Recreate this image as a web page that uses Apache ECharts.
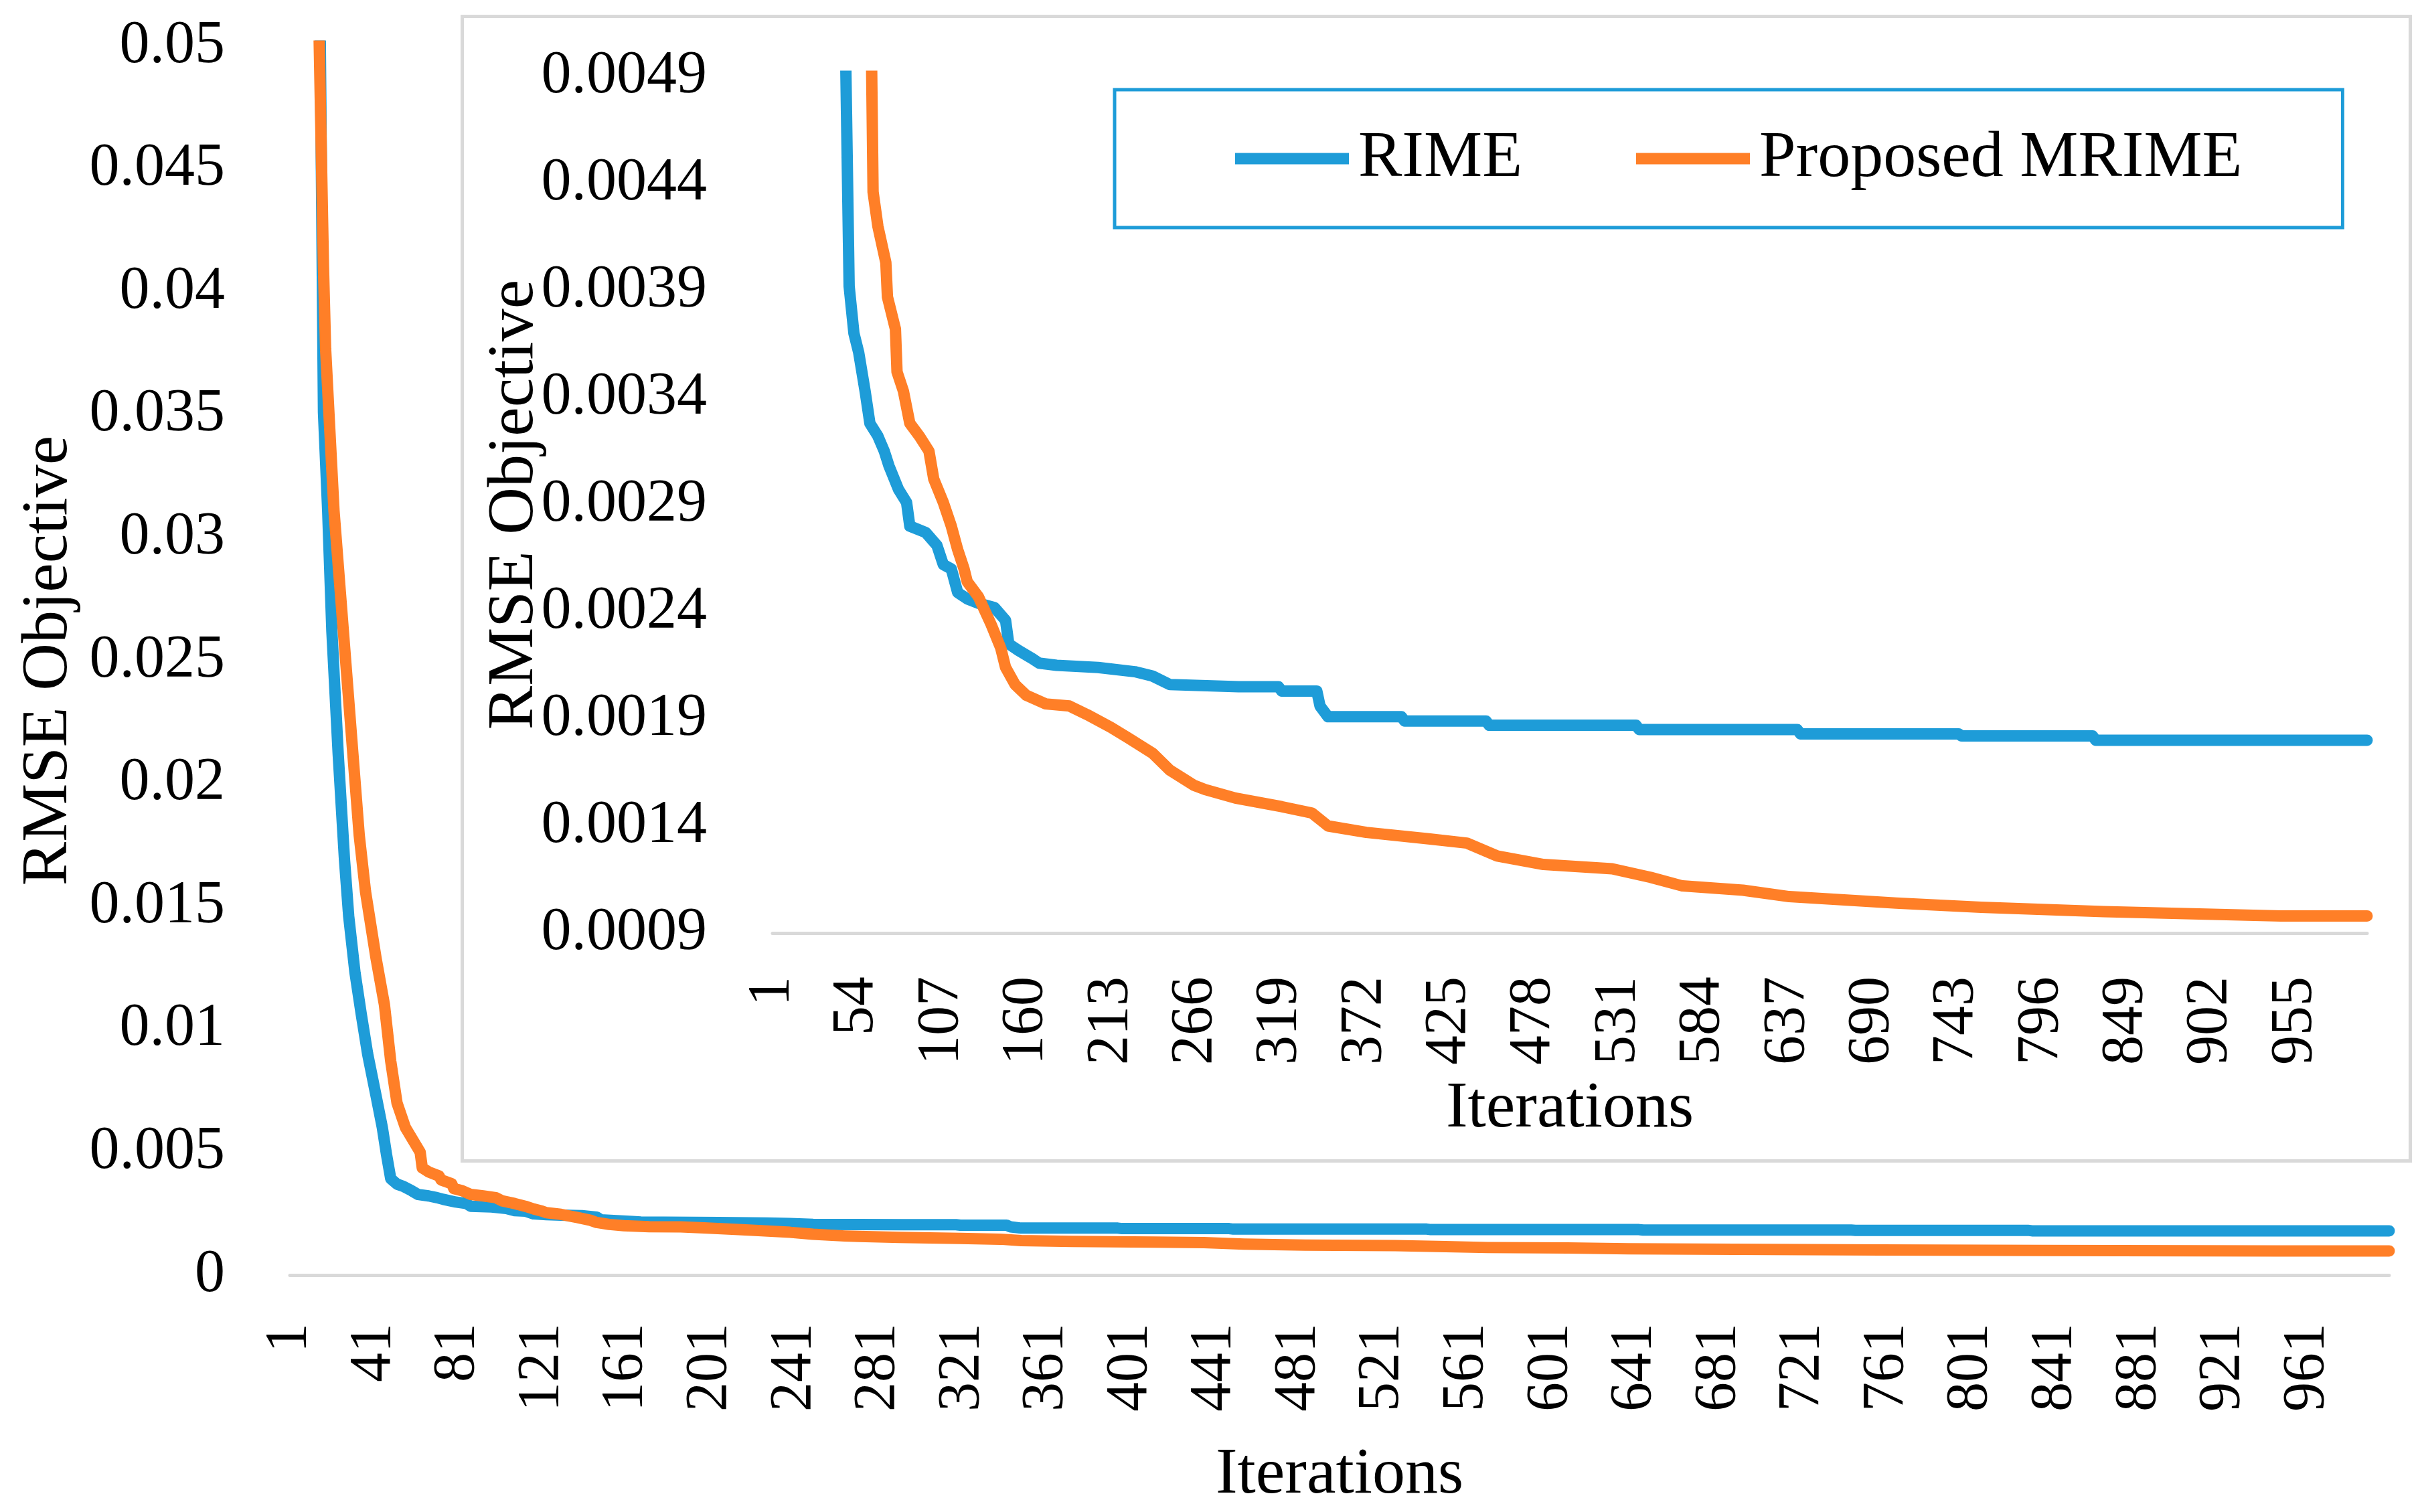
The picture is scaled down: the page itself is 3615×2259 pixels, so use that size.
<!DOCTYPE html>
<html>
<head>
<meta charset="utf-8">
<script src="https://cdn.jsdelivr.net/npm/echarts@6/dist/echarts.min.js"></script>
<style>
html, body { margin: 0; padding: 0; background: #ffffff; }
#chart { width: 3615px; height: 2259px; }
</style>
</head>
<body>
<div id="chart"></div>
<script>
// ---------- data ----------
const iterations = Array.from({ length: 1000 }, (_, k) => String(k + 1));
const seriesNames = ['RIME', 'Proposed MRIME'];

// [iteration, RMSE]
const rimePoints = [
  [1, 0.12], [15, 0.055], [16, 0.045], [17, 0.0351], [19, 0.0311], [21, 0.0262], [24, 0.0212],
  [27, 0.0169], [29, 0.0146], [32, 0.0123], [35, 0.0106], [38, 0.0090], [42, 0.0073],
  [45, 0.0060], [47, 0.0049], [49, 0.00392], [52, 0.00370], [55, 0.00361], [59, 0.00343],
  [62, 0.00328], [67, 0.00322], [71, 0.00315], [74, 0.00308], [80, 0.00297], [85, 0.00291],
  [87, 0.00280], [97, 0.00277], [104, 0.00271], [108, 0.00262], [113, 0.00260], [117, 0.00249],
  [123, 0.00246], [130, 0.00244], [140, 0.00242], [147, 0.00236], [149, 0.00225], [155, 0.00222],
  [164, 0.00218], [168, 0.00216], [179, 0.00215], [205, 0.00214], [228, 0.00212], [239, 0.00210],
  [250, 0.00206], [293, 0.00205], [318, 0.00205], [320, 0.00203], [342, 0.00203], [344, 0.00196],
  [349, 0.00191], [395, 0.00191], [397, 0.00189], [448, 0.00189], [450, 0.00187], [542, 0.00187],
  [544, 0.00185], [643, 0.00185], [645, 0.00183], [744, 0.00183], [746, 0.00182], [828, 0.00182],
  [830, 0.00180], [1000, 0.00180]
];
const mrimePoints = [
  [1, 0.12], [15, 0.0500], [17, 0.0410], [18, 0.0377], [20, 0.0344], [22, 0.0311], [25, 0.0278],
  [28, 0.0245], [31, 0.0212], [34, 0.0179], [37, 0.0156], [42, 0.0129], [46, 0.0110],
  [49, 0.0087], [52, 0.0070], [56, 0.0060], [63, 0.0050], [64, 0.00436], [67, 0.00420],
  [72, 0.00403], [73, 0.00387], [78, 0.00372], [79, 0.00352], [83, 0.00343], [87, 0.00328],
  [93, 0.00322], [99, 0.00315], [102, 0.00302], [108, 0.00291], [113, 0.00280], [117, 0.00269],
  [121, 0.00260], [123, 0.00254], [130, 0.00247], [138, 0.00234], [144, 0.00223], [147, 0.00214],
  [153, 0.00206], [160, 0.00201], [172, 0.00197], [187, 0.00196], [198, 0.00192], [213, 0.00186],
  [224, 0.00181], [239, 0.00174], [250, 0.00166], [265, 0.00159], [272, 0.00157], [291, 0.00153],
  [320, 0.00149], [339, 0.00146], [349, 0.00140], [373, 0.00137], [412, 0.00134], [436, 0.00132],
  [455, 0.00126], [484, 0.00122], [527, 0.00120], [551, 0.00116], [571, 0.00112], [609, 0.00110],
  [638, 0.00107], [705, 0.00104], [758, 0.00102], [835, 0.00100], [946, 0.00098], [1000, 0.00098]
];

const mainYTicks = [0, 0.005, 0.01, 0.015, 0.02, 0.025, 0.03, 0.035, 0.04, 0.045, 0.05];
const mainYLabels = ['0', '0.005', '0.01', '0.015', '0.02', '0.025', '0.03', '0.035', '0.04', '0.045', '0.05'];
const insetYTicks = [0.0009, 0.0014, 0.0019, 0.0024, 0.0029, 0.0034, 0.0039, 0.0044, 0.0049];
const insetYLabels = ['0.0009', '0.0014', '0.0019', '0.0024', '0.0029', '0.0034', '0.0039', '0.0044', '0.0049'];
const axisTitleX = 'Iterations';
const axisTitleY = 'RMSE Objective';

// ---------- styling ----------
const FONT = 'Liberation Serif';
const BLUE = '#1e9cd8';
const ORANGE = '#ff7f27';
const AXIS_GRAY = '#d9d9d9';
const colors = [BLUE, ORANGE];

function labelFor(ticks, labels) {
  return function (v) {
    for (let k = 0; k < ticks.length; k++) {
      if (Math.abs(ticks[k] - v) < 1e-9) return labels[k];
    }
    return '';
  };
}

function toSeriesData(points) {
  return points.map(p => [p[0] - 1, p[1]]);
}

const chart = echarts.init(document.getElementById('chart'), null, { renderer: 'canvas' });

const xAxisCommon = {
  type: 'category',
  data: iterations,
  boundaryGap: false,
  axisLine: { show: true, lineStyle: { color: AXIS_GRAY, width: 5 } },
  axisTick: { show: false },
  splitLine: { show: false },
  nameLocation: 'middle',
  nameTextStyle: { fontFamily: FONT, fontSize: 98, color: '#000' }
};

const yAxisCommon = {
  type: 'value',
  axisLine: { show: false },
  axisTick: { show: false },
  splitLine: { show: false },
  nameLocation: 'middle',
  nameTextStyle: { fontFamily: FONT, fontSize: 98, color: '#000' }
};

const option = {
  backgroundColor: '#ffffff',
  animation: false,
  color: colors,
  grid: [
    { left: 433, top: 69, width: 3136, height: 1836, containLabel: false },
    { left: 1154, top: 114, width: 2382, height: 1280, containLabel: false }
  ],
  graphic: [
    {
      type: 'rect',
      left: 688,
      top: 22,
      silent: true,
      z: -10,
      shape: { width: 2910, height: 1710 },
      style: { fill: 'none', stroke: AXIS_GRAY, lineWidth: 5 }
    }
  ],
  legend: {
    show: true,
    data: seriesNames,
    left: 1665,
    top: 134,
    orient: 'horizontal',
    padding: [54, 150, 54, 180],
    borderColor: BLUE,
    borderWidth: 5,
    backgroundColor: '#ffffff',
    itemGap: 170,
    itemWidth: 170,
    itemHeight: 17,
    icon: 'rect',
    itemStyle: { borderWidth: 0 },
    textStyle: { fontFamily: FONT, fontSize: 98, color: '#000', padding: [0, 0, 0, 9] }
  },
  xAxis: [
    Object.assign({}, xAxisCommon, {
      gridIndex: 0,
      name: axisTitleX,
      nameGap: 250,
      axisLabel: {
        interval: 39, rotate: 90, margin: 72,
        fontFamily: FONT, fontSize: 88, color: '#000'
      }
    }),
    Object.assign({}, xAxisCommon, {
      gridIndex: 1,
      name: axisTitleX,
      nameGap: 214,
      axisLabel: {
        interval: 52, rotate: 90, margin: 65,
        fontFamily: FONT, fontSize: 88, color: '#000'
      }
    })
  ],
  yAxis: [
    Object.assign({}, yAxisCommon, {
      gridIndex: 0,
      min: 0,
      max: 0.05,
      interval: 0.005,
      name: axisTitleY,
      nameGap: 310,
      axisLabel: {
        margin: 97, fontFamily: FONT, fontSize: 90, color: '#000',
        formatter: labelFor(mainYTicks, mainYLabels)
      }
    }),
    Object.assign({}, yAxisCommon, {
      gridIndex: 1,
      min: insetYTicks[0],
      max: insetYTicks[insetYTicks.length - 1],
      interval: 0.0005,
      name: axisTitleY,
      nameGap: 336,
      nameMoveOverlap: false,
      axisLabel: {
        margin: 98, fontFamily: FONT, fontSize: 90, color: '#000',
        customValues: insetYTicks,
        formatter: labelFor(insetYTicks, insetYLabels)
      }
    })
  ],
  series: [
    {
      name: seriesNames[0], type: 'line', xAxisIndex: 0, yAxisIndex: 0,
      data: toSeriesData(rimePoints), showSymbol: false, symbol: 'none', clip: true,
      lineStyle: { color: BLUE, width: 17, cap: 'round', join: 'round' }, z: 3
    },
    {
      name: seriesNames[1], type: 'line', xAxisIndex: 0, yAxisIndex: 0,
      data: toSeriesData(mrimePoints), showSymbol: false, symbol: 'none', clip: true,
      lineStyle: { color: ORANGE, width: 17, cap: 'round', join: 'round' }, z: 4
    },
    {
      name: seriesNames[0], type: 'line', xAxisIndex: 1, yAxisIndex: 1,
      data: toSeriesData(rimePoints), showSymbol: false, symbol: 'none', clip: true,
      lineStyle: { color: BLUE, width: 17, cap: 'round', join: 'round' }, z: 3
    },
    {
      name: seriesNames[1], type: 'line', xAxisIndex: 1, yAxisIndex: 1,
      data: toSeriesData(mrimePoints), showSymbol: false, symbol: 'none', clip: true,
      lineStyle: { color: ORANGE, width: 17, cap: 'round', join: 'round' }, z: 4
    }
  ]
};

chart.setOption(option);
</script>
</body>
</html>
